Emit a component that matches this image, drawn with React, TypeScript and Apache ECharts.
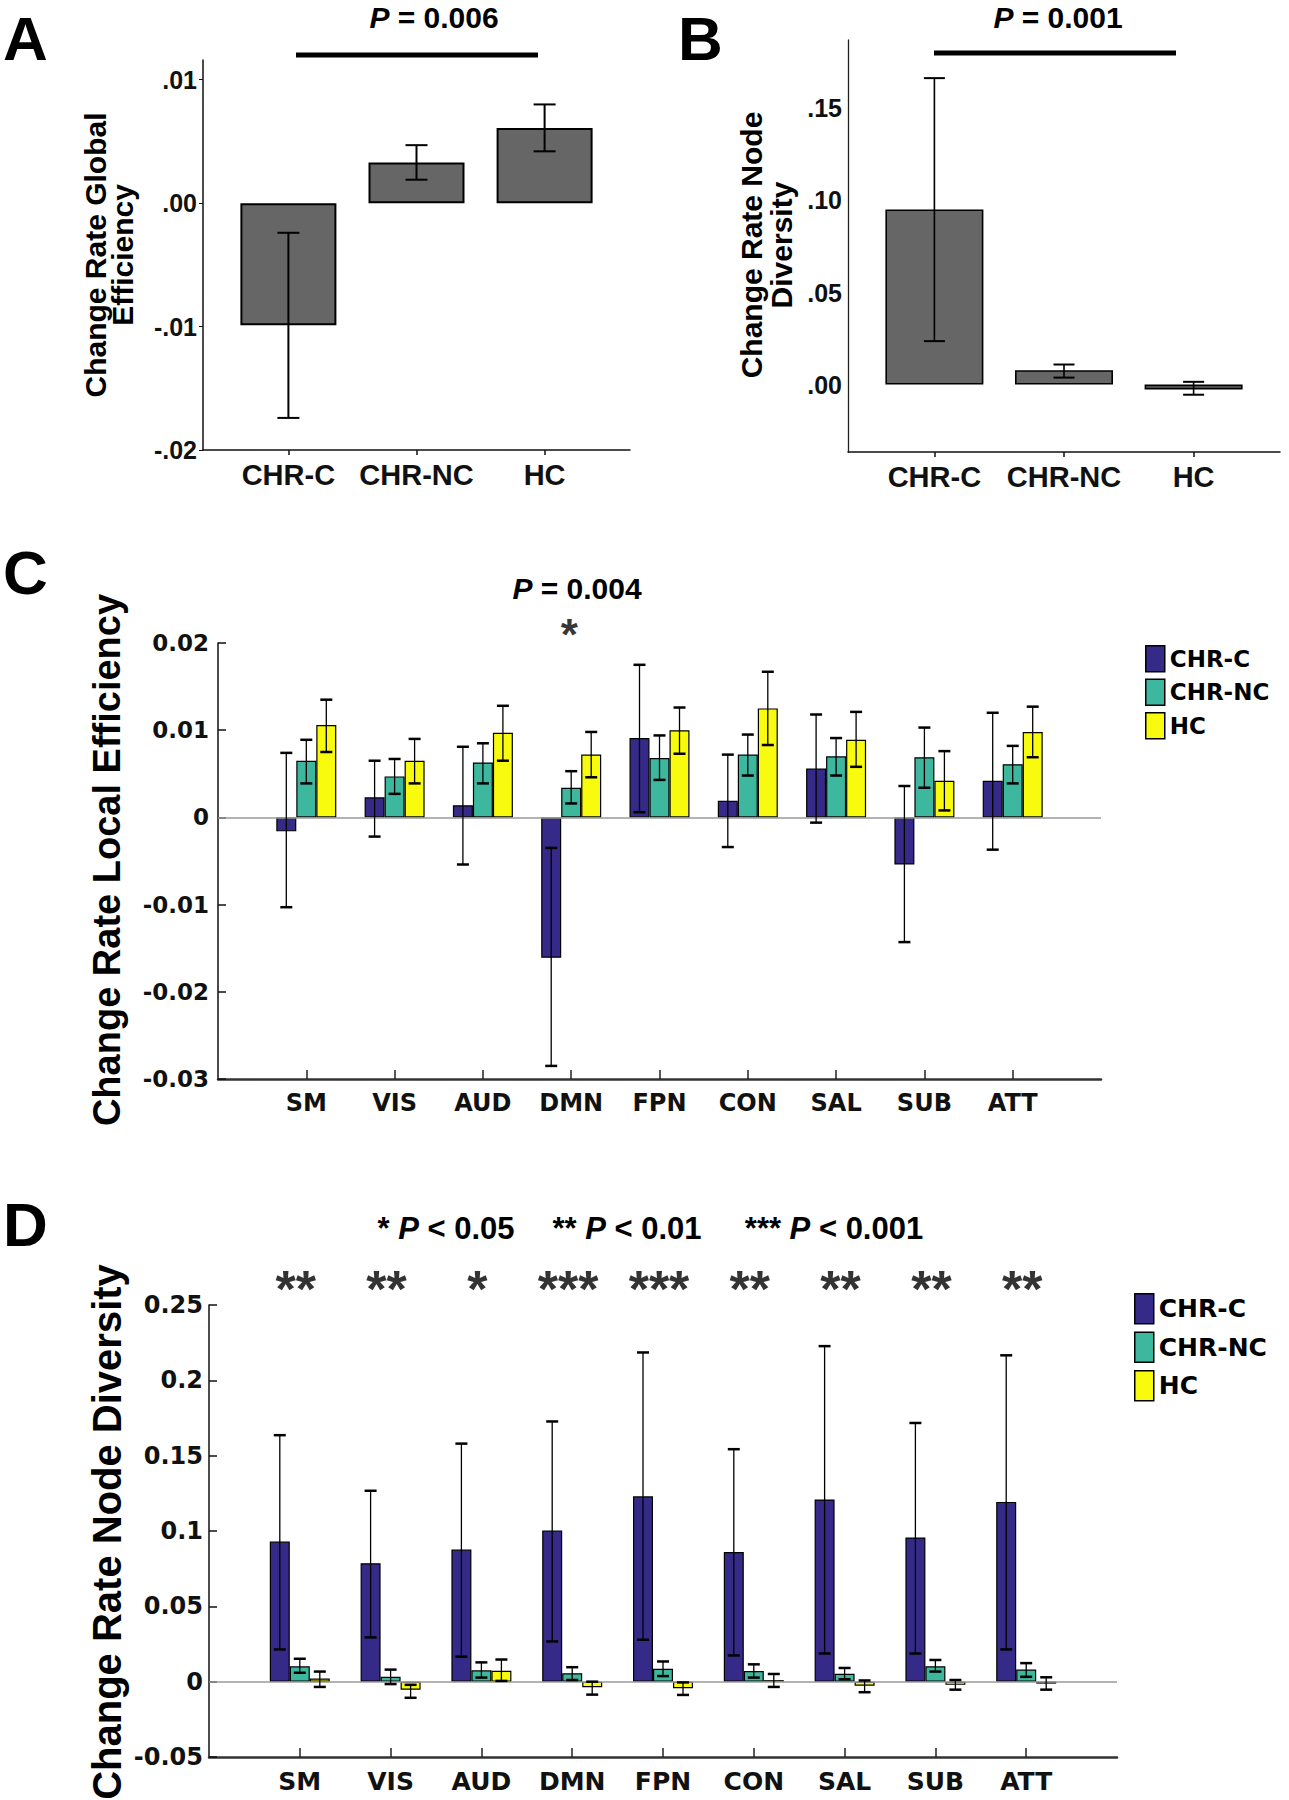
import React, { useEffect, useRef } from 'react';
import * as echarts from 'echarts';

// ---------------- data ----------------
const groupsAB = ['CHR-C', 'CHR-NC', 'HC'];

// Panel A: change rate global efficiency
const aMean = [-0.0099, 0.0033, 0.0061];
const aLow = [-0.0174, 0.0019, 0.0042];
const aHigh = [-0.0024, 0.0047, 0.008];

// Panel B: change rate node diversity
const bMean = [0.0951, 0.0078, -0.0026];
const bLow = [0.0236, 0.0038, -0.0055];
const bHigh = [0.1664, 0.0109, 0.0015];

const networks = ['SM', 'VIS', 'AUD', 'DMN', 'FPN', 'CON', 'SAL', 'SUB', 'ATT'];
const groupNames = ['CHR-C', 'CHR-NC', 'HC'];
const groupColors = ['#352A87', '#3DB89E', '#F9FB0E'];

// Panel C: change rate local efficiency
const cMeanC = [-0.0016, 0.0023, 0.0014, -0.0161, 0.0091, 0.0019, 0.0056, -0.0054, 0.0042];
const cLowC = [-0.0103, -0.0022, -0.0054, -0.0285, 0.0006, -0.0034, -0.0006, -0.0143, -0.0037];
const cHighC = [0.0074, 0.0065, 0.0081, -0.0035, 0.0175, 0.0072, 0.0118, 0.0036, 0.012];
const cMeanNC = [0.0065, 0.0047, 0.0063, 0.0034, 0.0068, 0.0072, 0.007, 0.0069, 0.0061];
const cLowNC = [0.0039, 0.0027, 0.0039, 0.0016, 0.0043, 0.0048, 0.0048, 0.0034, 0.0039];
const cHighNC = [0.0089, 0.0067, 0.0085, 0.0053, 0.0094, 0.0095, 0.0091, 0.0103, 0.0082];
const cMeanHC = [0.0106, 0.0065, 0.0097, 0.0072, 0.01, 0.0125, 0.0089, 0.0042, 0.0098];
const cLowHC = [0.0075, 0.0039, 0.0065, 0.0046, 0.0073, 0.0083, 0.0058, 0.0008, 0.0069];
const cHighHC = [0.0135, 0.009, 0.0128, 0.0098, 0.0126, 0.0167, 0.0121, 0.0076, 0.0127];
const cStarNetwork = 'DMN';

// Panel D: change rate node diversity per network
const dMeanC = [0.093, 0.0786, 0.0877, 0.1003, 0.123, 0.0861, 0.1209, 0.0957, 0.1193];
const dLowC = [0.0214, 0.0294, 0.0166, 0.0267, 0.0278, 0.0174, 0.0187, 0.0187, 0.0214];
const dHighC = [0.1636, 0.1267, 0.158, 0.1727, 0.2185, 0.1543, 0.2227, 0.1717, 0.2166];
const dMeanNC = [0.0102, 0.0032, 0.0075, 0.0056, 0.0086, 0.007, 0.0053, 0.0102, 0.008];
const dLowNC = [0.0059, -0.0016, 0.0027, 0.0011, 0.0037, 0.0027, 0.0016, 0.0067, 0.0032];
const dHighNC = [0.0152, 0.008, 0.0128, 0.0096, 0.0134, 0.0115, 0.0091, 0.0144, 0.0123];
const dMeanHC = [0.0021, -0.0053, 0.0072, -0.0037, -0.0043, 0.001, -0.0027, -0.0021, -0.0013];
const dLowHC = [-0.0035, -0.0107, 0.0005, -0.0086, -0.0088, -0.0035, -0.007, -0.0053, -0.0053];
const dHighHC = [0.0067, -0.0021, 0.0147, 0.0, -0.0005, 0.0051, 0.0008, 0.0011, 0.0029];
const starsD = ['**', '**', '*', '***', '***', '**', '**', '**', '**'];

// tick labels
const aTicks = [-0.02, -0.01, 0, 0.01];
const bTicks = [0, 0.05, 0.1, 0.15];

// ---------------- helpers ----------------
const SANS = "'Liberation Sans', Arial, Helvetica, sans-serif";
const WIDE = "'DejaVu Sans', Verdana, sans-serif";

const abSlots = Array.from({ length: 11 }, (_, i) => (i % 3 === 2 ? groupsAB[(i - 2) / 3] : ''));
const abIndex = (i: number) => 2 + 3 * i;
const cdSlots = ['', ...networks, ''];

function abBarData(vals: number[]) {
  const arr: any[] = Array(11).fill('-');
  vals.forEach((v, i) => (arr[abIndex(i)] = v));
  return arr;
}
function cdBarData(vals: number[]) {
  return ['-', ...vals, '-'];
}

function errorSeries(name: string, xi: number, data: number[][], offset: number, capW: number, lw: number, capLw: number) {
  return {
    name,
    type: 'custom',
    xAxisIndex: xi,
    yAxisIndex: xi,
    z: 10,
    silent: true,
    clip: false,
    encode: { x: 0, y: [1, 2] },
    data,
    renderItem: (params: any, api: any) => {
      const lo = api.coord([api.value(0), api.value(1)]);
      const hi = api.coord([api.value(0), api.value(2)]);
      const cx = lo[0] + offset;
      const st = { stroke: '#000', lineWidth: lw };
      const cs = { stroke: '#000', lineWidth: capLw };
      return {
        type: 'group',
        children: [
          { type: 'line', shape: { x1: cx, y1: hi[1], x2: cx, y2: lo[1] }, style: st },
          { type: 'line', shape: { x1: cx - capW / 2, y1: hi[1], x2: cx + capW / 2, y2: hi[1] }, style: cs },
          { type: 'line', shape: { x1: cx - capW / 2, y1: lo[1], x2: cx + capW / 2, y2: lo[1] }, style: cs },
        ],
      };
    },
  };
}

const fmtAB = (v: number) => (v < 0 ? '-' : '') + '.' + String(Math.round(Math.abs(v) * 100)).padStart(2, '0');
const fmtCD = (v: number) => String(Number(v.toFixed(4)));

function pText(x: number, y: number, pre: string, post: string, size: number) {
  return {
    type: 'text',
    x,
    y,
    style: {
      text: (pre ? '{n|' + pre + '}' : '') + '{i|P}{n|' + post + '}',
      align: 'center',
      verticalAlign: 'middle',
      rich: {
        i: { fontFamily: SANS, fontWeight: 'bold', fontStyle: 'italic', fontSize: size, fill: '#000' },
        n: { fontFamily: SANS, fontWeight: 'bold', fontSize: size, fill: '#000' },
      },
    },
  };
}

function letter(x: number, y: number, t: string) {
  return {
    type: 'text',
    x,
    y,
    style: { text: t, fontFamily: SANS, fontWeight: 'bold', fontSize: 62, fill: '#000', align: 'left', verticalAlign: 'middle' },
  };
}

function yTitle(x: number, y: number, t: string, size: number, lh: number) {
  return {
    type: 'text',
    x,
    y,
    rotation: Math.PI / 2,
    style: {
      text: t,
      fontFamily: SANS,
      fontWeight: 'bold',
      fontSize: size,
      lineHeight: lh,
      fill: '#000',
      align: 'center',
      verticalAlign: 'middle',
    },
  };
}

function sigLine(x1: number, x2: number, y: number) {
  return { type: 'line', shape: { x1, y1: y, x2, y2: y }, style: { stroke: '#000', lineWidth: 5 } };
}

export default function App() {
  const ref = useRef<HTMLDivElement>(null);
  useEffect(() => {
    document.body.style.margin = '0';
    const chart = echarts.init(ref.current!, null, { renderer: 'svg' });

    const abXAxis = (gi: number) => ({
      type: 'category',
      gridIndex: gi,
      data: abSlots,
      boundaryGap: false,
      axisLine: { onZero: false, lineStyle: { color: '#111', width: 1.5 } },
      axisTick: { show: true, interval: (i: number) => i % 3 === 2, length: 5, lineStyle: { color: '#111', width: 1.5 } },
      axisLabel: { interval: 0, margin: 10, fontFamily: SANS, fontWeight: 'bold', fontSize: 29, color: '#111' },
      splitLine: { show: false },
    });
    const cdXAxis = (gi: number, fs: number) => ({
      type: 'category',
      gridIndex: gi,
      data: cdSlots,
      boundaryGap: false,
      axisLine: { onZero: false, lineStyle: { color: '#333', width: 2.5 } },
      axisTick: {
        show: true,
        inside: true,
        interval: (i: number) => i > 0 && i < cdSlots.length - 1,
        length: 9,
        lineStyle: { color: '#222', width: 1.5 },
      },
      axisLabel: { interval: 0, margin: 12, fontFamily: WIDE, fontWeight: 'bold', fontSize: fs, color: '#111' },
      splitLine: { show: false },
    });

    const barCD = (gi: number, k: number, vals: number[], withZero: boolean) => ({
      name: groupNames[k],
      type: 'bar',
      xAxisIndex: gi,
      yAxisIndex: gi,
      barWidth: 20,
      barGap: '0%',
      data: cdBarData(vals),
      itemStyle: { color: groupColors[k], borderColor: '#000', borderWidth: 1.2 },
      ...(withZero
        ? {
            markLine: {
              silent: true,
              symbol: ['none', 'none'],
              label: { show: false },
              lineStyle: { color: '#9a9a9a', width: 1.5, type: 'solid' },
              data: [{ yAxis: 0 }],
            },
          }
        : {}),
    });

    const cdErr = (gi: number, k: number, lo: number[], hi: number[]) =>
      errorSeries('err' + gi + '_' + k, gi, lo.map((l, i) => [i + 1, l, hi[i]]), (k - 1) * 20, 12, 1.3, 2.5);

    const option: any = {
      animation: false,
      backgroundColor: '#fff',
      grid: [
        { left: 203, top: 60, width: 427, height: 390 },
        { left: 848, top: 40, width: 432, height: 412 },
        { left: 218, top: 643, width: 883, height: 436 },
        { left: 209, top: 1305, width: 908, height: 452 },
      ],
      xAxis: [abXAxis(0), abXAxis(1), cdXAxis(2, 24), cdXAxis(3, 25)],
      yAxis: [
        {
          type: 'value',
          gridIndex: 0,
          min: -0.02,
          max: 0.0116,
          axisLine: { show: true, lineStyle: { color: '#111', width: 1.5 } },
          axisTick: { show: true, customValues: aTicks, length: 4, lineStyle: { color: '#111' } },
          axisLabel: { customValues: aTicks, formatter: fmtAB, margin: 6, fontFamily: SANS, fontWeight: 'bold', fontSize: 25, color: '#111' },
          splitLine: { show: false },
        },
        {
          type: 'value',
          gridIndex: 1,
          min: -0.0366,
          max: 0.1871,
          axisLine: { show: true, lineStyle: { color: '#222', width: 1.3 } },
          axisTick: { show: false },
          axisLabel: { customValues: bTicks, formatter: fmtAB, margin: 6, fontFamily: SANS, fontWeight: 'bold', fontSize: 25, color: '#111' },
          splitLine: { show: false },
        },
        {
          type: 'value',
          gridIndex: 2,
          min: -0.03,
          max: 0.02,
          interval: 0.01,
          axisLine: { show: true, lineStyle: { color: '#111', width: 1.5 } },
          axisTick: { show: true, inside: true, length: 8, lineStyle: { color: '#111', width: 1.5 } },
          axisLabel: { formatter: fmtCD, margin: 9, fontFamily: WIDE, fontWeight: 'bold', fontSize: 23, color: '#111' },
          splitLine: { show: false },
        },
        {
          type: 'value',
          gridIndex: 3,
          min: -0.05,
          max: 0.25,
          interval: 0.05,
          axisLine: { show: true, lineStyle: { color: '#111', width: 1.5 } },
          axisTick: { show: true, inside: true, length: 8, lineStyle: { color: '#111', width: 1.5 } },
          axisLabel: { formatter: fmtCD, margin: 6, fontFamily: WIDE, fontWeight: 'bold', fontSize: 24, color: '#111' },
          splitLine: { show: false },
        },
      ],
      legend: [
        {
          data: groupNames,
          orient: 'vertical',
          left: 1145,
          top: 645,
          padding: 0,
          itemWidth: 19,
          itemHeight: 26,
          itemGap: 6,
          icon: 'rect',
          selectedMode: false,
          itemStyle: { borderColor: '#000', borderWidth: 1.5 },
          textStyle: { fontFamily: WIDE, fontWeight: 'bold', fontSize: 23, color: '#000' },
        },
        {
          data: groupNames,
          orient: 'vertical',
          left: 1134,
          top: 1293,
          padding: 0,
          itemWidth: 19,
          itemHeight: 30,
          itemGap: 7,
          icon: 'rect',
          selectedMode: false,
          itemStyle: { borderColor: '#000', borderWidth: 1.5 },
          textStyle: { fontFamily: WIDE, fontWeight: 'bold', fontSize: 25, color: '#000' },
        },
      ],
      series: [
        {
          name: 'A',
          type: 'bar',
          xAxisIndex: 0,
          yAxisIndex: 0,
          barWidth: 96,
          data: abBarData(aMean),
          itemStyle: { color: '#666666', borderColor: '#000', borderWidth: 2 },
        },
        errorSeries('errA', 0, aMean.map((_, i) => [abIndex(i), aLow[i], aHigh[i]]), 0, 22, 2, 2),
        {
          name: 'B',
          type: 'bar',
          xAxisIndex: 1,
          yAxisIndex: 1,
          barWidth: 98,
          data: abBarData(bMean),
          itemStyle: { color: '#666666', borderColor: '#000', borderWidth: 1.6 },
        },
        errorSeries('errB', 1, bMean.map((_, i) => [abIndex(i), bLow[i], bHigh[i]]), 0, 21, 1.6, 2),

        barCD(2, 0, cMeanC, true),
        barCD(2, 1, cMeanNC, false),
        barCD(2, 2, cMeanHC, false),
        cdErr(2, 0, cLowC, cHighC),
        cdErr(2, 1, cLowNC, cHighNC),
        cdErr(2, 2, cLowHC, cHighHC),
        {
          name: 'starC',
          type: 'scatter',
          xAxisIndex: 2,
          yAxisIndex: 2,
          symbolSize: 0,
          clip: false,
          silent: true,
          data: [[networks.indexOf(cStarNetwork) + 1, 0.0213]],
          label: {
            show: true,
            position: 'inside',
            formatter: '*',
            offset: [-2, 3],
            fontFamily: SANS,
            fontWeight: 'bold',
            fontSize: 44,
            color: '#000',
          },
        },

        barCD(3, 0, dMeanC, true),
        barCD(3, 1, dMeanNC, false),
        barCD(3, 2, dMeanHC, false),
        cdErr(3, 0, dLowC, dHighC),
        cdErr(3, 1, dLowNC, dHighNC),
        cdErr(3, 2, dLowHC, dHighHC),
        {
          name: 'starD',
          type: 'scatter',
          xAxisIndex: 3,
          yAxisIndex: 3,
          symbolSize: 0,
          clip: false,
          silent: true,
          data: networks.map((_, i) => [i + 1, 0.257]),
          label: {
            show: true,
            position: 'inside',
            formatter: (p: any) => starsD[p.dataIndex],
            offset: [-4, -5],
            fontFamily: SANS,
            fontWeight: 'bold',
            fontSize: 52,
            color: '#000',
          },
        },
      ],
      graphic: [
        letter(3, 38, 'A'),
        letter(678, 38, 'B'),
        letter(3, 572, 'C'),
        letter(3, 1224, 'D'),
        pText(434, 17, '', ' = 0.006', 30),
        pText(1058, 17, '', ' = 0.001', 30),
        pText(577, 588, '', ' = 0.004', 30),
        pText(446, 1228, '* ', ' < 0.05', 31),
        pText(627, 1228, '** ', ' < 0.01', 31),
        pText(834, 1228, '*** ', ' < 0.001', 31),
        sigLine(296, 538, 55),
        sigLine(934, 1176, 53),
        yTitle(109, 255, 'Change Rate Global\nEfficiency', 30, 27),
        yTitle(766, 245, 'Change Rate Node\nDiversity', 30, 30),
        yTitle(107, 860, 'Change Rate Local Efficiency', 38, 40),
        yTitle(107, 1532, 'Change Rate Node Diversity', 40, 42),
      ],
    };

    chart.setOption(option);
    return () => chart.dispose();
  }, []);

  return <div ref={ref} style={{ width: 1289, height: 1800 }} />;
}
